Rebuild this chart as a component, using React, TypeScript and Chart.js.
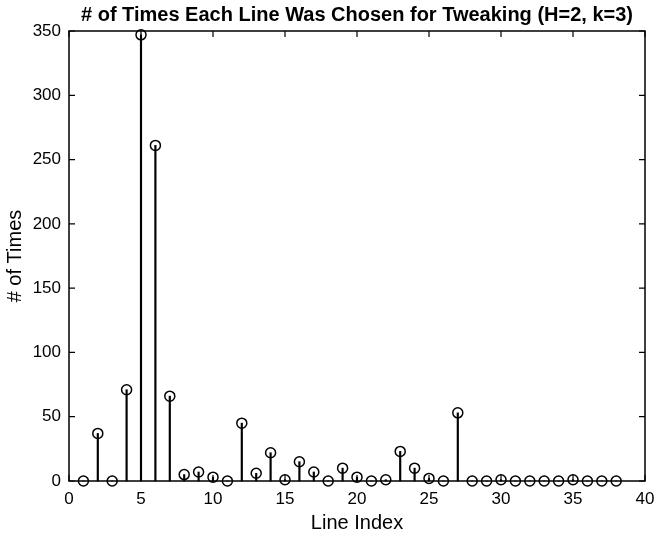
import React, { useEffect, useRef } from "react";
import { Chart, registerables } from "chart.js";

Chart.register(...registerables);

const lineIndex = [1, 2, 3, 4, 5, 6, 7, 8, 9, 10, 11, 12, 13, 14, 15, 16, 17, 18, 19, 20, 21, 22, 23, 24, 25, 26, 27, 28, 29, 30, 31, 32, 33, 34, 35, 36, 37, 38];
const timesChosen = [0, 37, 0, 71, 347, 261, 66, 5, 7, 3, 0, 45, 6, 22, 1, 15, 7, 0, 10, 3, 0, 1, 23, 10, 2, 0, 53, 0, 0, 1, 0, 0, 0, 0, 1, 0, 0, 0];
const xTicks = [0, 5, 10, 15, 20, 25, 30, 35, 40];
const yTicks = [0, 50, 100, 150, 200, 250, 300, 350];
const chartTitle = "# of Times Each Line Was Chosen for Tweaking (H=2, k=3)";
const xTitle = "Line Index";
const yTitle = "# of Times";

const FONT = "'Liberation Sans', Arial, Helvetica, sans-serif";

const boxPlugin = {
  id: "matlabBox",
  beforeDatasetsDraw(chart: any) {
    const { ctx, chartArea, scales } = chart;
    const { left, right, top, bottom } = chartArea;
    const x = scales.x;
    const y = scales.y;
    ctx.save();
    ctx.strokeStyle = "#000";
    ctx.lineWidth = 1.5;
    ctx.strokeRect(left, top, right - left, bottom - top);
    ctx.lineWidth = 1.2;
    ctx.beginPath();
    const tl = 6;
    for (const v of xTicks) {
      const px = x.getPixelForValue(v);
      ctx.moveTo(px, bottom);
      ctx.lineTo(px, bottom - tl);
      ctx.moveTo(px, top);
      ctx.lineTo(px, top + tl);
    }
    for (const v of yTicks) {
      const py = y.getPixelForValue(v);
      ctx.moveTo(left, py);
      ctx.lineTo(left + tl, py);
      ctx.moveTo(right, py);
      ctx.lineTo(right - tl, py);
    }
    ctx.stroke();
    ctx.restore();
  },
  afterDraw(chart: any) {
    const { ctx, chartArea } = chart;
    ctx.save();
    ctx.fillStyle = "#000";
    ctx.font = `bold 20px ${FONT}`;
    ctx.textAlign = "center";
    ctx.textBaseline = "middle";
    ctx.fillText(chartTitle, (chartArea.left + chartArea.right) / 2, 15);
    ctx.restore();
  },
};

export default function App() {
  const ref = useRef<HTMLCanvasElement | null>(null);

  useEffect(() => {
    if (!ref.current) return;
    const points = lineIndex.map((xv, i) => ({ x: xv, y: timesChosen[i] }));
    const chart = new Chart(ref.current, {
      type: "bar",
      data: {
        datasets: [
          {
            type: "scatter",
            data: points,
            order: 1,
            pointStyle: "circle",
            pointRadius: 5,
            pointHoverRadius: 5,
            pointBorderWidth: 1.5,
            borderColor: "#000",
            backgroundColor: "rgba(0,0,0,0)",
            pointBackgroundColor: "rgba(0,0,0,0)",
            pointBorderColor: "#000",
            clip: false,
          } as any,
          {
            type: "bar",
            data: points,
            order: 2,
            barThickness: 1.5,
            backgroundColor: "#000",
            borderWidth: 0,
            clip: false,
          } as any,
        ],
      },
      options: {
        responsive: false,
        animation: false,
        events: [],
        layout: { padding: { left: 0, right: 12, top: 31, bottom: 0 } },
        plugins: {
          legend: { display: false },
          tooltip: { enabled: false },
          title: { display: false },
        },
        scales: {
          x: {
            type: "linear",
            min: 0,
            max: 40,
            offset: false,
            grid: { display: false, drawTicks: false },
            border: { display: false },
            ticks: {
              stepSize: 5,
              padding: 8,
              color: "#000",
              font: { family: FONT, size: 17 },
              maxRotation: 0,
            },
            title: {
              display: true,
              text: xTitle,
              color: "#000",
              font: { family: FONT, size: 20 },
              padding: { top: 0, bottom: 2 },
            },
            afterFit(s: any) {
              s.height = 56;
              s.paddingLeft = 0;
              s.paddingRight = 0;
            },
          },
          y: {
            type: "linear",
            min: 0,
            max: 350,
            grid: { display: false, drawTicks: false },
            border: { display: false },
            ticks: {
              stepSize: 50,
              padding: 8,
              color: "#000",
              font: { family: FONT, size: 17 },
            },
            title: {
              display: true,
              text: yTitle,
              color: "#000",
              font: { family: FONT, size: 20 },
              padding: { top: 3, bottom: 0 },
            },
            afterFit(s: any) {
              s.width = 69;
              s.paddingTop = 0;
              s.paddingBottom = 0;
            },
          },
        },
      } as any,
      plugins: [boxPlugin],
    });
    return () => chart.destroy();
  }, []);

  return (
    <div style={{ position: "absolute", left: 0, top: 0, width: 657, height: 537, background: "#fff" }}>
      <canvas ref={ref} width={657} height={537} style={{ display: "block" }} />
    </div>
  );
}
